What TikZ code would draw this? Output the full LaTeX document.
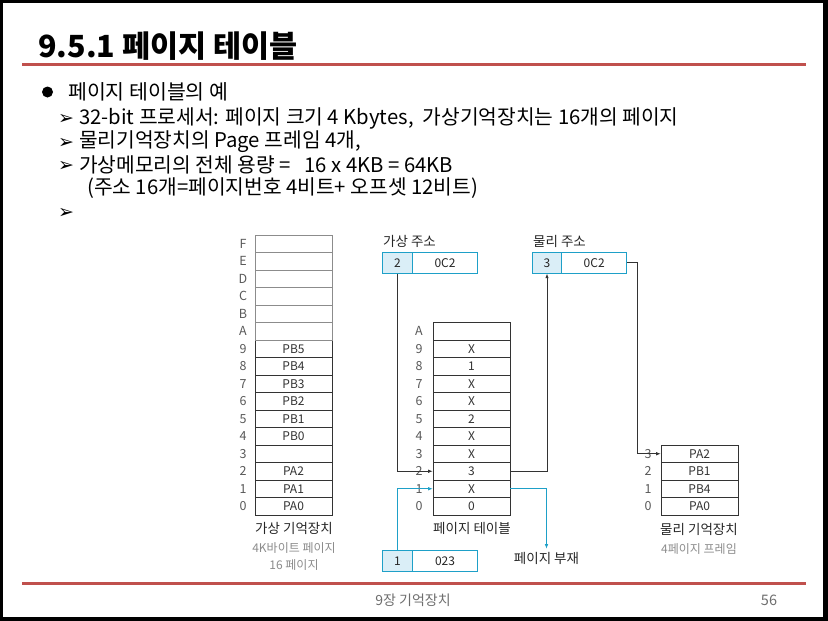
\documentclass[tikz,border=0pt]{standalone}
\usepackage{fontspec}
\setmainfont{Noto Sans CJK KR}
\newfontfamily\dv{DejaVu Sans}
\usetikzlibrary{arrows.meta}
\definecolor{slidered}{RGB}{192,80,77}
\definecolor{cyanline}{RGB}{30,160,200}
\definecolor{lightblue}{RGB}{218,238,247}
\definecolor{footgray}{RGB}{110,110,110}
\tikzset{
  cell/.style={draw=black!80, line width=0.7pt, minimum width=77pt, minimum height=17.5pt, inner sep=0pt, font=\fontsize{12}{13}\selectfont, text=black!80},
  topcell/.style={cell, draw=black!45},
  rowlab/.style={font=\fontsize{12.5}{13}\selectfont, text=black!65, inner sep=0pt},
  addr/.style={draw=cyanline, line width=0.8pt, minimum height=21pt, inner sep=0pt, font=\fontsize{12}{13}\selectfont, text=black!85},
  captxt/.style={font=\fontsize{13.5}{15}\selectfont, text=black!85, inner sep=1pt},
  subcaptxt/.style={font=\fontsize{12}{14}\selectfont, text=black!45, inner sep=1pt},
  conn/.style={draw=black!80, line width=0.7pt, -{Latex[length=4.5pt,width=3.5pt]}},
  subline/.style={anchor=west, font=\fontsize{20.3}{24}\selectfont, inner sep=0pt},
  arrowmark/.style={font=\dv\bfseries\fontsize{19}{21}\selectfont, inner sep=0pt},
}
\begin{document}
\begin{tikzpicture}[x=1pt,y=-1pt]
\fill[black] (0,0) rectangle (828,621);
\fill[white] (3,3) rectangle (823,617);
\useasboundingbox (0,0) rectangle (828,621);

% title
\node[anchor=west, font=\fontsize{30.5}{36}\selectfont\bfseries, inner sep=0pt] (title) at (38,46) {9.5.1 페이지 테이블};
\draw[slidered, line width=3pt] (22,64) -- (806,64);

% bullets
\fill (47.5,92) circle (5.5);
\node[anchor=west, font=\fontsize{20.5}{25}\selectfont, inner sep=0pt] (b0) at (68,92) {페이지 테이블의 예};
\node[arrowmark] (m1) at (66,119) {➢};
\node[arrowmark] (m2) at (66,143) {➢};
\node[arrowmark] (m3a) at (66,166) {➢};
\node[arrowmark] (m4) at (66,213) {➢};
\node[subline] (s1) at (79,118) {32-bit 프로세서: 페이지 크기 4 Kbytes,\ \ 가상기억장치는 16개의 페이지};
\node[subline] (s2) at (79,142) {물리기억장치의 Page 프레임 4개,};
\node[subline] (s3) at (79,165) {가상메모리의 전체 용량 =\ \ \ 16 x 4KB = 64KB};
\node[subline] (s4) at (87,188) {(주소 16개=페이지번호 4비트+ 오프셋 12비트)};

% footer
\draw[slidered, line width=3pt] (22,583) -- (806,583);
\node[font=\fontsize{14}{16}\selectfont, text=footgray] (foot) at (413,600) {9장 기억장치};
\node[font=\fontsize{14.5}{16}\selectfont, text=footgray] (pg) at (769,600) {56};

% virtual memory
\foreach \i/\l/\t in {0/0/PA0,1/1/PA1,2/2/PA2,3/3/,4/4/PB0,5/5/PB1,6/6/PB2,7/7/PB3,8/8/PB4,9/9/PB5}{
  \node[cell] (v\l) at (293.5,{515-17.5*(\i+0.5)}) {\t};
  \node[rowlab] (vl\l) at (243,{515-17.5*(\i+0.5)}) {\l};
}
\foreach \i/\l in {10/A,11/B,12/C,13/D,14/E,15/F}{
  \node[topcell] (v\l) at (293.5,{515-17.5*(\i+0.5)}) {};
  \node[rowlab] (vl\l) at (243,{515-17.5*(\i+0.5)}) {\l};
}
\node[captxt] (vcap) at (294,528) {가상 기억장치};
\node[subcaptxt] (vsub1) at (294,548) {4K바이트 페이지};
\node[subcaptxt] (vsub2) at (294,565) {16 페이지};

% page table
\foreach \i/\l/\t in {0/0/0,1/1/X,2/2/3,3/3/X,4/4/X,5/5/2,6/6/X,7/7/X,8/8/1,9/9/X,10/A/}{
  \node[cell] (p\l) at (471.5,{515-17.5*(\i+0.5)}) {\t};
  \node[rowlab] (pl\l) at (419,{515-17.5*(\i+0.5)}) {\l};
}
\node[captxt] (pcap) at (472,528) {페이지 테이블};

% physical memory
\foreach \i/\l/\t in {0/0/PA0,1/1/PB4,2/2/PB1,3/3/PA2}{
  \node[cell] (m\l) at (699.5,{515-17.5*(\i+0.5)}) {\t};
  \node[rowlab] (ml\l) at (648,{515-17.5*(\i+0.5)}) {\l};
}
\node[captxt] (mcap) at (699,529) {물리 기억장치};
\node[subcaptxt] (msub) at (699,549) {4페이지 프레임};

% addresses
\node[captxt, anchor=west] (vacap) at (382,241) {가상 주소};
\node[captxt, anchor=west] (pacap) at (532,241) {물리 주소};
\node[addr, fill=lightblue, minimum width=29.6pt] (va1) at (397.5,262.8) {2};
\node[addr, minimum width=65.4pt] (va2) at (445,262.8) {0C2};
\node[addr, fill=lightblue, minimum width=29.4pt] (pa1) at (547,262.8) {3};
\node[addr, minimum width=65pt] (pa2) at (594.2,262.8) {0C2};
\node[addr, fill=lightblue, minimum width=29.6pt] (ea1) at (397.5,560.8) {1};
\node[addr, minimum width=65.4pt] (ea2) at (445,560.8) {023};
\node[captxt, inner sep=3pt] (fault) at (546.5,558) {페이지 부재};

% connectors
\draw[conn] (va1.south) |- (p2.west);
\draw[conn] (p2.east) -| (pa1.south);
\draw[conn] (pa2.east) -- ++(10,0) |- (m3.west);
\draw[conn, draw=cyanline] (ea1.north) |- (p1.west);
\draw[conn, draw=cyanline] (p1.east) -| (fault.north);
\end{tikzpicture}
\end{document}
